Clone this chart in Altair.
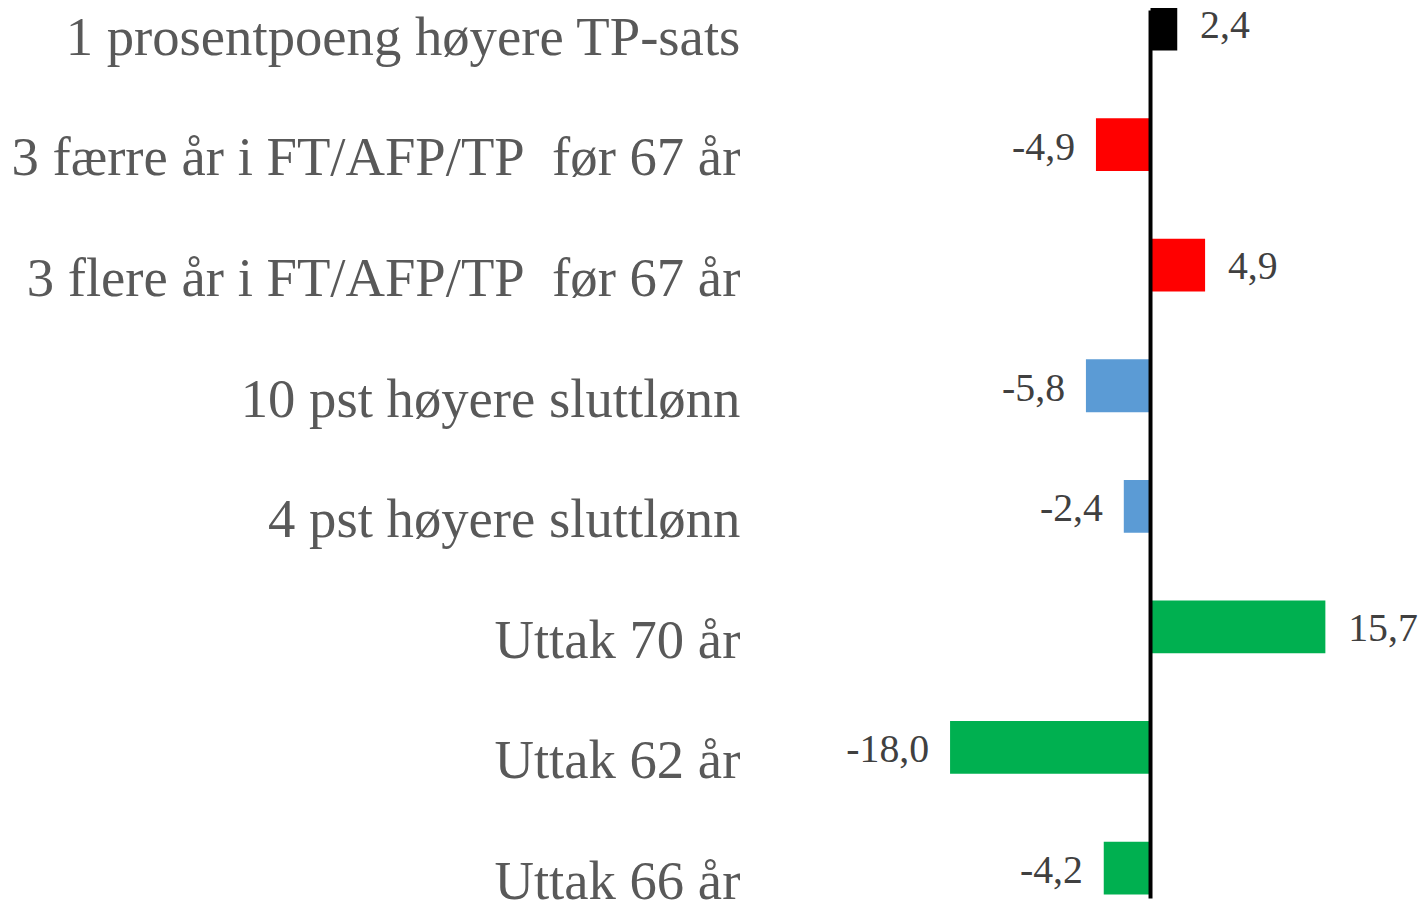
import altair as alt
import pandas as pd

categories = [
    "1 prosentpoeng høyere TP-sats",
    "3 færre år i FT/AFP/TP\u00a0 før 67 år",
    "3 flere år i FT/AFP/TP\u00a0 før 67 år",
    "10 pst høyere sluttlønn",
    "4 pst høyere sluttlønn",
    "Uttak 70 år",
    "Uttak 62 år",
    "Uttak 66 år",
]
values = [2.4, -4.9, 4.9, -5.8, -2.4, 15.7, -18.0, -4.2]
colors = ["#000000", "#FF0000", "#FF0000", "#5B9BD5", "#5B9BD5",
          "#00B050", "#00B050", "#00B050"]

df = pd.DataFrame({
    "cat": categories,
    "val": values,
    "color": colors,
    "label": [f"{v:.1f}".replace(".", ",") for v in values],
})

FONT = "Liberation Serif"
PAD_LEFT = 759
W, H = 660, 893
ZERO_PX = 390
k = 11.2  # px per unit
x_scale = alt.Scale(domain=[-ZERO_PX / k, (W - ZERO_PX) / k], nice=False, zero=False)
y_scale = alt.Scale(domain=categories, range=[-47, 923],
                    paddingInner=0.562, paddingOuter=0.281)

base = alt.Chart(df)

bars = base.mark_bar().encode(
    y=alt.Y("cat:N", sort=categories, scale=y_scale,
            axis=alt.Axis(title=None, domain=False, ticks=False, grid=False,
                          labelFont=FONT, labelFontSize=55, labelColor="#595959",
                          labelPadding=23, labelLimit=0, labelOffset=14,
                          labelAlign="right")),
    x=alt.X("val:Q", scale=x_scale, axis=None),
    x2=alt.datum(0),
    color=alt.Color("color:N", scale=None),
)

zero = alt.Chart(pd.DataFrame({"z": [0]})).mark_rule(
    color="#000000", strokeWidth=4
).encode(x=alt.X("z:Q", scale=x_scale))

pos_text = base.transform_filter("datum.val >= 0").mark_text(
    align="left", baseline="middle", dx=23, dy=2,
    font=FONT, fontSize=40, color="#404040"
).encode(
    y=alt.Y("cat:N", sort=categories, scale=y_scale),
    x=alt.X("val:Q", scale=x_scale),
    text="label:N",
)

neg_text = base.transform_filter("datum.val < 0").mark_text(
    align="right", baseline="middle", dx=-21, dy=3,
    font=FONT, fontSize=40, color="#404040"
).encode(
    y=alt.Y("cat:N", sort=categories, scale=y_scale),
    x=alt.X("val:Q", scale=x_scale),
    text="label:N",
)

chart = alt.layer(bars, zero, pos_text, neg_text).properties(
    width=W,
    height=H,
    autosize=alt.AutoSizeParams(type="none"),
    padding={"left": PAD_LEFT, "top": 0, "right": 0, "bottom": 0},
).configure_view(stroke=None)

chart.save("out.html", embed_options={"renderer": "svg", "actions": False})
